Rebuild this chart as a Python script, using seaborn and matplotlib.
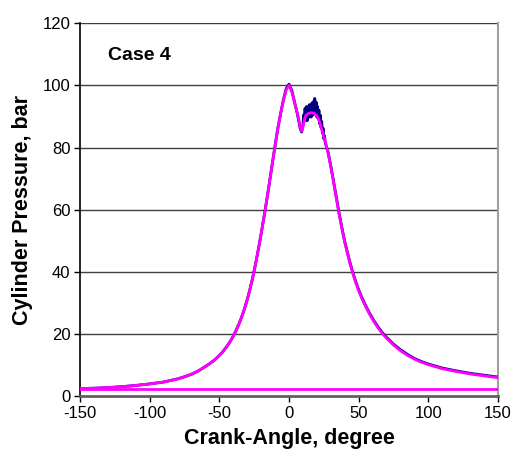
import matplotlib
matplotlib.use("Agg")
import matplotlib.pyplot as plt
import seaborn as sns
import pandas as pd

# ---- data ----
crank_sim = [-150, -140, -130, -120, -110, -100, -95, -90, -85, -80, -75, -70, -65, -60,
             -57, -54, -51, -48, -45, -42, -40, -38, -36, -34, -32, -30, -28, -26, -24,
             -22, -20, -18, -16, -14, -12, -10, -8, -6, -4, -2, 0, 2, 4, 6, 7, 8, 9,
             10, 11, 12, 14, 16, 18, 20, 22, 24, 26, 28, 30, 32, 34, 36, 38, 40, 42,
             44, 46, 48, 50, 52, 55, 58, 61, 64, 67, 70, 75, 80, 85, 90, 95, 100,
             110, 120, 130, 140, 150]
pres_sim = [2.4, 2.5, 2.7, 3.0, 3.4, 3.9, 4.2, 4.5, 5.0, 5.5, 6.2, 7.0, 8.1, 9.5,
            10.4, 11.4, 12.6, 14.0, 15.7, 17.7, 19.3, 21.1, 23.1, 25.4, 28.0, 31.0, 34.4, 38.2, 42.5,
            47.2, 52.2, 57.5, 63.0, 68.8, 74.8, 80.6, 86.2, 90.9, 95.2, 98.6, 100.0, 98.0, 94.5, 91.0, 89.0, 86.8, 85.3,
            86.5, 88.8, 90.3, 91.0, 91.2, 91.0, 90.2, 88.2, 85.0, 82.0, 78.3, 73.8, 68.8, 63.6, 58.5, 53.8, 49.5, 45.8,
            42.3, 39.2, 36.4, 33.9, 31.7, 28.8, 26.2, 23.9, 21.9, 20.1, 18.6, 16.4, 14.6, 13.1, 11.9, 10.9, 10.1,
            8.8, 7.9, 7.1, 6.5, 5.9]

crank_meas = [-150, -140, -130, -120, -110, -100, -95, -90, -85, -80, -75, -70, -65, -60,
              -57, -54, -51, -48, -45, -42, -40, -38, -36, -34, -32, -30, -28, -26, -24,
              -22, -20, -18, -16, -14, -12, -10, -8, -6, -4, -2, 0, 2, 4, 6, 7, 8,
              9.0, 9.5, 10.0, 10.5, 11.0, 11.5, 12.0, 12.5, 13.0, 13.5, 14.0, 14.5,
              15.0, 15.5, 16.0, 16.5, 17.0, 17.5, 18.0, 18.5, 19.0, 19.5, 20.0, 20.5,
              21.0, 21.5, 22.0, 22.5, 23.0, 23.5, 24.0, 24.5, 25.0, 25.5, 26.0,
              28, 30, 32, 34, 36, 38, 40, 42, 44, 46, 48, 50, 52, 55, 58, 61, 64, 67,
              70, 75, 80, 85, 90, 95, 100, 110, 120, 130, 140, 150]
pres_meas = [2.4, 2.5, 2.7, 3.0, 3.4, 3.9, 4.2, 4.5, 5.0, 5.5, 6.2, 7.0, 8.1, 9.5,
             10.4, 11.4, 12.6, 14.0, 15.7, 17.7, 19.3, 21.1, 23.1, 25.4, 28.0, 31.0, 34.4, 38.2, 42.5,
             47.2, 52.2, 57.5, 63.0, 68.8, 74.8, 80.6, 86.2, 91.0, 95.4, 99.0, 100.4, 98.4, 94.6, 90.8, 88.6, 86.2,
             85.0, 85.8, 87.5, 90.5, 88.6, 92.6, 89.2, 93.2, 88.6, 92.8, 89.6, 93.8,
             90.0, 93.2, 89.8, 94.4, 90.4, 94.8, 90.8, 95.8, 91.0, 94.6, 89.8, 93.2,
             89.2, 92.0, 87.6, 90.4, 86.4, 88.4, 84.6, 86.2, 82.8, 83.8, 81.6,
             78.6, 74.1, 69.1, 63.9, 58.8, 54.1, 49.8, 46.1, 42.6, 39.5, 36.7, 34.2, 32.0, 29.1, 26.5, 24.2, 22.2, 20.4,
             18.9, 16.7, 14.9, 13.4, 12.1, 11.1, 10.3, 9.0, 8.1, 7.3, 6.7, 6.1]

base_crank = [-150, 150]
base_pres = [2.3, 2.3]

x_ticks = [-150, -100, -50, 0, 50, 100, 150]
y_ticks = [0, 20, 40, 60, 80, 100, 120]

df_meas = pd.DataFrame({"crank": crank_meas, "p": pres_meas})
df_sim = pd.DataFrame({"crank": crank_sim, "p": pres_sim})
df_base = pd.DataFrame({"crank": base_crank, "p": base_pres})

sns.set_theme(style="white")
plt.rcParams["font.family"] = ["Liberation Sans", "DejaVu Sans"]
plt.rcParams["axes.unicode_minus"] = False
plt.rcParams["text.color"] = "black"
plt.rcParams["axes.labelcolor"] = "black"

fig = plt.figure(figsize=(5.23, 4.71), dpi=100)
ax = fig.add_axes([80 / 523, 1 - 396 / 471, 418 / 523, (396 - 23.3) / 471])

for yv in y_ticks[1:]:
    ax.axhline(yv, color="#404040", lw=1.0, zorder=1)

sns.lineplot(data=df_meas, x="crank", y="p", ax=ax, color="#000080", lw=2.0,
             sort=False, estimator=None, zorder=3)
sns.lineplot(data=df_sim, x="crank", y="p", ax=ax, color="#FF00FF", lw=2.0,
             sort=False, estimator=None, zorder=4)
sns.lineplot(data=df_base, x="crank", y="p", ax=ax, color="#FF00FF", lw=2.0,
             sort=False, estimator=None, zorder=4)

ax.set_xlim(-150, 150)
ax.set_ylim(0, 120)
ax.set_xticks(x_ticks)
ax.set_yticks(y_ticks)
ax.tick_params(axis="both", labelsize=12, colors="black", length=4, width=1,
               direction="out", pad=3, bottom=True, left=True)

ax.spines["top"].set_visible(False)
ax.spines["left"].set_color("black")
ax.spines["left"].set_linewidth(1.2)
ax.spines["bottom"].set_color("#606060")
ax.spines["bottom"].set_linewidth(2.0)
ax.spines["right"].set_color("#a0a0a0")
ax.spines["right"].set_linewidth(1.5)

ax.set_xlabel("Crank-Angle, degree", fontsize=15.5, fontweight="bold", labelpad=5, color="black")
ax.set_ylabel("Cylinder Pressure, bar", fontsize=15.5, fontweight="bold", labelpad=7, color="black")

ax.text(-129.9, 109.6, "Case 4", fontsize=14, fontweight="bold", va="center", ha="left", color="black")

fig.savefig("out.png", dpi=100)
